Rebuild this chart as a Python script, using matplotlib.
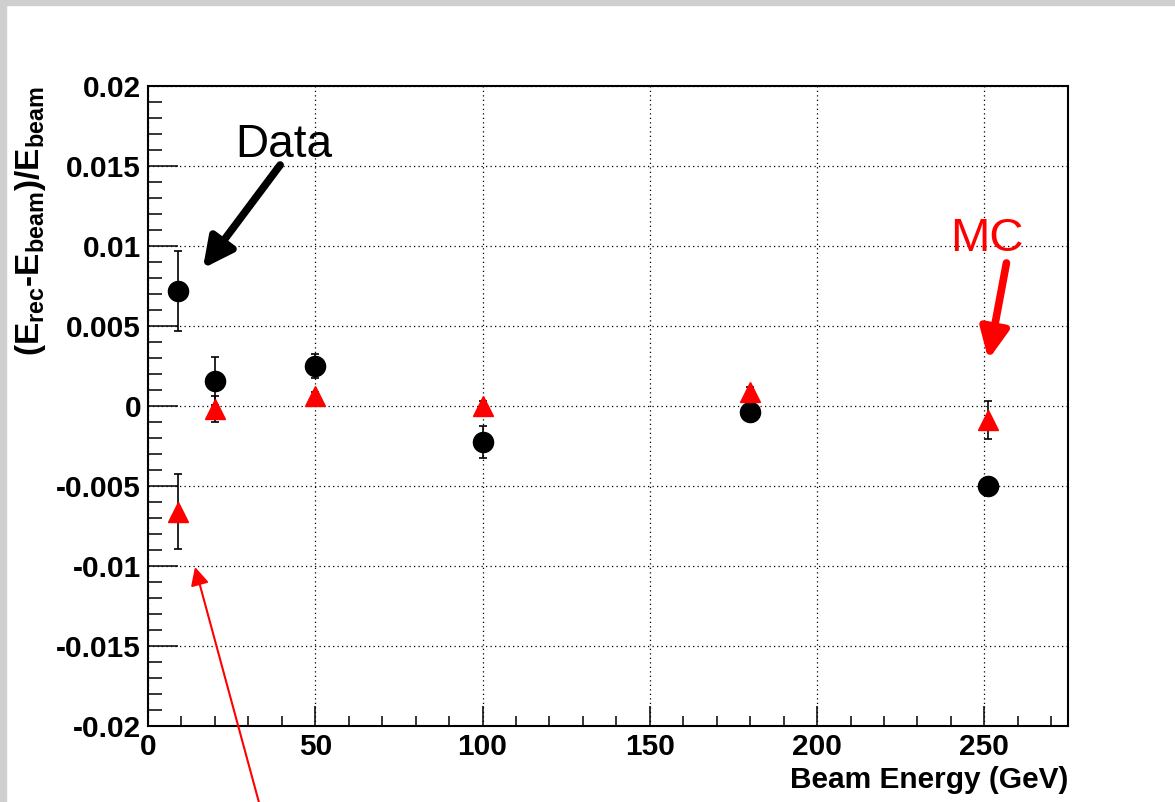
import matplotlib
matplotlib.use("Agg")
import matplotlib.pyplot as plt
from matplotlib.ticker import MultipleLocator, FuncFormatter
from matplotlib.patches import Rectangle

plt.rcParams["font.family"] = ["Liberation Sans", "DejaVu Sans"]
plt.rcParams["mathtext.fontset"] = "custom"
plt.rcParams["mathtext.bf"] = "Liberation Sans:bold"
plt.rcParams["mathtext.rm"] = "Liberation Sans:bold"
plt.rcParams["axes.unicode_minus"] = False

# beam energies (GeV)
data_x = [9, 20, 50, 100, 180, 251]
data_y = [0.0072, 0.00156, 0.0025, -0.00225, -0.0004, -0.0050]
data_err = [0.0025, 0.0015, 0.00075, 0.001, 0.0004, 0.0003]

mc_x = [9, 20, 50, 100, 180, 251]
mc_y = [-0.0066, -0.0002, 0.0006, 0.0, 0.0009, -0.00088]
mc_err = [0.00235, 0.0008, 0.0003, 0.0003, 0.0003, 0.0012]

fig = plt.figure(figsize=(11.75, 8.02), dpi=100)
fig.patches.append(Rectangle((0, 1 - 5 / 802), 1, 5 / 802, transform=fig.transFigure,
                             color="#cfcfcf", zorder=0))
fig.patches.append(Rectangle((0, 0), 6 / 1175, 1, transform=fig.transFigure,
                             color="#cfcfcf", zorder=0))

ax = fig.add_axes([148 / 1175, 1 - 726 / 802, 920 / 1175, 640 / 802])

ax.errorbar(data_x, data_y, yerr=data_err, fmt="o", color="black", ms=14.5,
            ecolor="black", elinewidth=1.2, capsize=3, capthick=1.2, zorder=3)
ax.errorbar(mc_x, mc_y, yerr=mc_err, fmt="^", color="red", ms=14, mec="red",
            ecolor="black", elinewidth=1.2, capsize=3, capthick=1.2, zorder=4)

ax.set_xlim(0, 275)
ax.set_ylim(-0.02, 0.02)
ax.xaxis.set_major_locator(MultipleLocator(50))
ax.xaxis.set_minor_locator(MultipleLocator(10))
ax.yaxis.set_major_locator(MultipleLocator(0.005))
ax.yaxis.set_minor_locator(MultipleLocator(0.001))


def fmt(v, pos):
    if abs(v) < 1e-9:
        return "0"
    return "%g" % round(v, 4)


ax.yaxis.set_major_formatter(FuncFormatter(fmt))
ax.xaxis.set_major_formatter(FuncFormatter(fmt))

ax.tick_params(which="both", direction="in", top=False, right=False, width=1.1,
               labelsize=21.5, pad=5)
ax.tick_params(axis="y", which="major", length=21.5)
ax.tick_params(axis="y", which="minor", length=10)
ax.tick_params(axis="x", which="major", length=14.4)
ax.tick_params(axis="x", which="minor", length=7.2)
for lab in ax.get_xticklabels() + ax.get_yticklabels():
    lab.set_fontweight("bold")

for s in ax.spines.values():
    s.set_linewidth(1.5)

ax.grid(True, which="major", color="black", linestyle=(0, (1, 2.6)), linewidth=0.9)
ax.set_axisbelow(True)

ax.set_xlabel("Beam Energy (GeV)", fontsize=21.5, fontweight="bold", loc="right",
              labelpad=4)
ax.set_ylabel(r"(E$_{\mathbf{rec}}$-E$_{\mathbf{beam}}$)/E$_{\mathbf{beam}}$",
              fontsize=24, fontweight="bold", loc="top", labelpad=6)

# annotations
ax.text(26, 0.01556, "Data", fontsize=33, color="black", ha="left", va="baseline")
ax.annotate("", xy=(16.4, 0.0086), xytext=(39.5, 0.01506),
            arrowprops=dict(arrowstyle="-|>,head_length=1.8,head_width=0.9",
                            color="black", lw=5.5, shrinkA=0, shrinkB=0))
ax.text(239.8, 0.0097, "MC", fontsize=34, color="red", ha="left", va="baseline")
ax.annotate("", xy=(251.2, 0.0029), xytext=(256.6, 0.00894),
            arrowprops=dict(arrowstyle="-|>,head_length=1.8,head_width=0.85",
                            color="red", lw=5.5, shrinkA=0, shrinkB=0))
ax.annotate("", xy=(14.05, -0.01006), xytext=(33.2, -0.0248),
            arrowprops=dict(arrowstyle="-|>,head_length=1.1,head_width=0.55",
                            color="red", lw=1.5, shrinkA=0, shrinkB=0),
            annotation_clip=False)

fig.savefig("out.png", dpi=100)
